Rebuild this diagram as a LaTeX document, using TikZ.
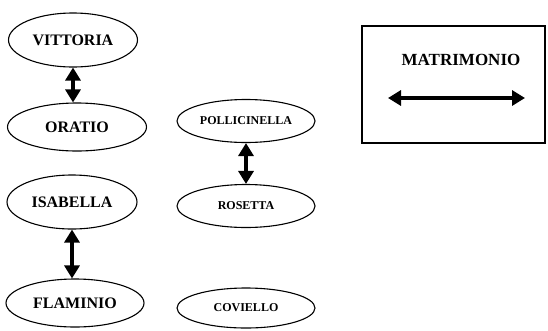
\documentclass[tikz,border=0pt]{standalone}
\usepackage{fontspec}
\setmainfont{Liberation Serif}
\usetikzlibrary{shapes.geometric,arrows.meta}

\begin{document}
\begin{tikzpicture}[x=1pt, y=-1pt,
  persona/.style={ellipse, draw, line width=1.1pt, inner sep=0pt, font=\bfseries\fontsize{16}{16}\selectfont},
  personaS/.style={persona, minimum width=138pt, minimum height=43pt, font=\bfseries\fontsize{12}{12}\selectfont},
  matr/.style={line width=3.8pt, {Triangle[length=13pt,width=15pt]}-{Triangle[length=13pt,width=15pt]}}]

\useasboundingbox (0,0) rectangle (548,330);

% prima colonna
\node[persona, minimum width=129pt, minimum height=54pt] (vittoria) at (73,40) {VITTORIA};
\node[persona, minimum width=139pt, minimum height=48pt] (oratio) at (77,127) {ORATIO};
\node[persona, minimum width=130pt, minimum height=54pt] (isabella) at (72,202) {ISABELLA};
\node[persona, minimum width=138pt, minimum height=48pt] (flaminio) at (75,303) {FLAMINIO};

% seconda colonna
\node[personaS] (pollicinella) at (246,121) {POLLICINELLA};
\node[personaS] (rosetta) at (246,206) {ROSETTA};
\node[personaS, minimum height=40pt] (coviello) at (246,308) {COVIELLO};

\draw[matr] (vittoria.south) -- (vittoria.south |- oratio.north);
\draw[matr] (isabella.south) -- (isabella.south |- flaminio.north);
\draw[matr] (pollicinella.south) -- (rosetta.north);

% legenda
\node[draw, line width=1.1pt, minimum width=183pt, minimum height=117pt] (legenda) at (453.5,84.5) {};
\node[font=\bfseries\fontsize{17}{17}\selectfont] (titolo) at (461,60) {MATRIMONIO};
\coordinate (mSx) at (388,98);
\coordinate (mDx) at (525,98);
\draw[matr] (mSx) -- (mDx);

\end{tikzpicture}
\end{document}
